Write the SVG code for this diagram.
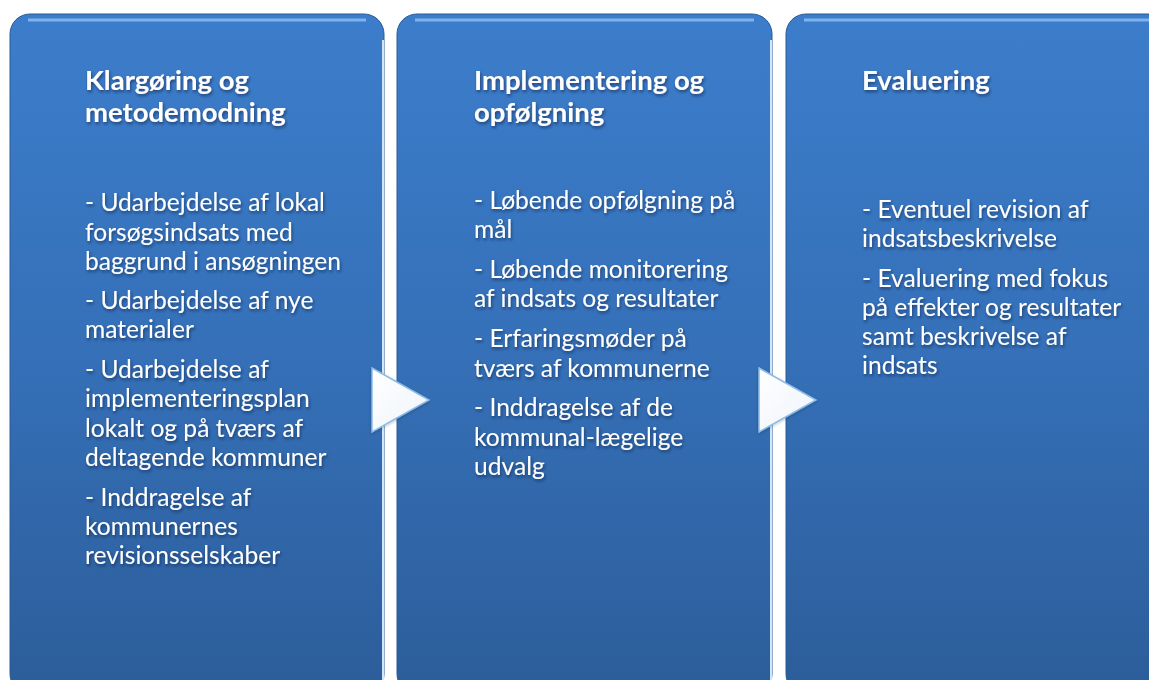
<svg xmlns="http://www.w3.org/2000/svg" width="1149" height="680" viewBox="0 0 1149 680">
<defs>
<linearGradient id="bg" x1="0" y1="0" x2="0" y2="1">
<stop offset="0" stop-color="#3c7dcb"/>
<stop offset="0.5" stop-color="#3570b8"/>
<stop offset="1" stop-color="#2c5d9a"/>
</linearGradient>
<linearGradient id="tri" x1="0" y1="0" x2="1" y2="1">
<stop offset="0" stop-color="#ffffff"/>
<stop offset="1" stop-color="#eef3fa"/>
</linearGradient>
<filter id="ts" x="-10%" y="-30%" width="120%" height="160%">
<feDropShadow dx="1" dy="2" stdDeviation="1.5" flood-color="#0a2040" flood-opacity="0.6"/>
</filter>
<filter id="ps" x="-10%" y="-10%" width="120%" height="120%">
<feDropShadow dx="0" dy="1" stdDeviation="1.5" flood-color="#000" flood-opacity="0.25"/>
</filter>
</defs>
<style>
.panel{fill:url(#bg);stroke:#2a5a96;stroke-width:1}
.gloss{fill:none;stroke:#8ec1f2;stroke-width:3;stroke-opacity:0.8}
.side{fill:none;stroke:#cfe6fb;stroke-width:2}
.t{font-family:Lato,"Open Sans",sans-serif;fill:#ffffff;filter:url(#ts)}
.h{font-size:27.5px;font-weight:bold}
.b{font-size:24.6px}
.arr{fill:url(#tri);stroke:#8cbbe8;stroke-width:1.5;filter:url(#ps)}
</style>
<rect width="1149" height="680" fill="#ffffff"/>
<g id="panel1">
<rect class="panel" x="10" y="14" width="374" height="680" rx="20"/>
<path class="gloss" d="M28 20 H366"/>
<path class="side" d="M383 40 V694"/>
<text class="t h" x="85" y="90">Klargøring og</text>
<text class="t h" x="85" y="122">metodemodning</text>
<text class="t b" x="85"><tspan x="85" y="211">- Udarbejdelse af lokal</tspan><tspan x="85" y="241">forsøgsindsats med</tspan><tspan x="85" y="270">baggrund i ansøgningen</tspan><tspan x="85" y="309">- Udarbejdelse af nye</tspan><tspan x="85" y="338">materialer</tspan><tspan x="85" y="378">- Udarbejdelse af</tspan><tspan x="85" y="407">implementeringsplan</tspan><tspan x="85" y="437">lokalt og på tværs af</tspan><tspan x="85" y="466">deltagende kommuner</tspan><tspan x="85" y="506">- Inddragelse af</tspan><tspan x="85" y="535">kommunernes</tspan><tspan x="85" y="564">revisionsselskaber</tspan></text>
</g>
<g id="panel2">
<rect class="panel" x="397" y="14" width="375" height="680" rx="20"/>
<path class="gloss" d="M415 20 H754"/>
<path class="side" d="M771 40 V694"/>
<text class="t h" x="474" y="90">Implementering og</text>
<text class="t h" x="474" y="122">opfølgning</text>
<text class="t b"><tspan x="474" y="209">- Løbende opfølgning på</tspan><tspan x="474" y="238">mål</tspan><tspan x="474" y="278">- Løbende monitorering</tspan><tspan x="474" y="307">af indsats og resultater</tspan><tspan x="474" y="347">- Erfaringsmøder på</tspan><tspan x="474" y="377">tværs af kommunerne</tspan><tspan x="474" y="416">- Inddragelse af de</tspan><tspan x="474" y="446">kommunal-lægelige</tspan><tspan x="474" y="475">udvalg</tspan></text>
</g>
<g id="panel3">
<rect class="panel" x="786" y="14" width="400" height="680" rx="20"/>
<path class="gloss" d="M804 20 H1149"/>
<text class="t h" x="862" y="90">Evaluering</text>
<text class="t b"><tspan x="862" y="218">- Eventuel revision af</tspan><tspan x="862" y="247">indsatsbeskrivelse</tspan><tspan x="862" y="287">- Evaluering med fokus</tspan><tspan x="862" y="316">på effekter og resultater</tspan><tspan x="862" y="345">samt beskrivelse af</tspan><tspan x="862" y="374">indsats</tspan></text>
</g>
<g id="connectors">
<polygon class="arr" points="372,368 429,400 372,432"/>
<polygon class="arr" points="759,368 816,400 759,432"/>
</g>
</svg>
